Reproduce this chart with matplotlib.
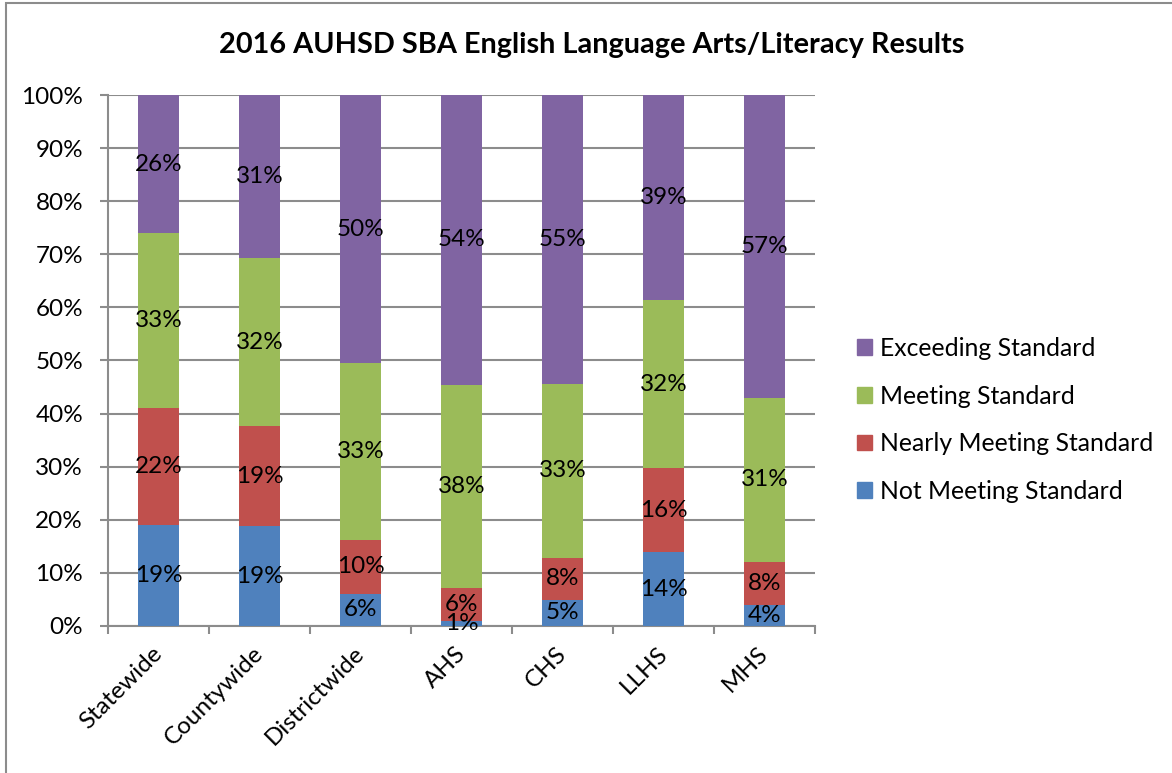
import numpy as np
import matplotlib.pyplot as plt
import matplotlib.transforms as mtransforms
from matplotlib.patches import Patch, Rectangle

plt.rcParams['font.family'] = ['Lato', 'DejaVu Sans']

# ===== data =====
schools = ["Statewide", "Countywide", "Districtwide", "AHS", "CHS", "LLHS", "MHS"]
not_meeting = [19, 19, 6, 1, 5, 14, 4]
nearly = [22, 19, 10, 6, 8, 16, 8]
meeting = [33, 32, 33, 38, 33, 32, 31]
exceeding = [26, 31, 50, 54, 55, 39, 57]

series_names = ["Not Meeting Standard", "Nearly Meeting Standard",
                "Meeting Standard", "Exceeding Standard"]
colors = ["#4F81BD", "#C0504D", "#9BBB59", "#8064A2"]

# 100% stacked: 把每一欄正規化
vals = np.array([not_meeting, nearly, meeting, exceeding], dtype=float)
shares = vals / vals.sum(axis=0) * 100

fig = plt.figure(figsize=(11.72, 7.73), dpi=100)
ax = fig.add_axes([0.0922, 0.1902, 0.6032, 0.6869])

# 外框
fig.patches.append(Rectangle((6 / 1172, -0.01), 1.2, 1 - 3 / 773 + 0.01,
                             transform=fig.transFigure, fill=False,
                             edgecolor="#8C8C8C", linewidth=1.5))

x = np.arange(len(schools))
bottom = np.zeros(len(schools))
for i in range(4):
    ax.bar(x, shares[i], 0.4, bottom=bottom, color=colors[i], zorder=3)
    for j in range(len(schools)):
        ax.text(x[j], bottom[j] + shares[i][j] / 2, f"{int(vals[i][j])}%",
                ha="center", va="center", fontsize=17.5, color="black", zorder=4)
    bottom += shares[i]

ax.set_xlim(-0.5, len(schools) - 0.5)
ax.set_ylim(0, 100)
ax.set_yticks(np.arange(0, 101, 10))
ax.set_yticklabels([f"{v}%" for v in range(0, 101, 10)], fontsize=17.5)
ax.yaxis.grid(True, color="#8C8C8C", linewidth=1.5, zorder=0)
ax.set_axisbelow(True)

ax.set_xticks(x)
ax.set_xticklabels(schools, rotation=45, ha="right", rotation_mode="anchor",
                   fontsize=17.5)
ax.set_xticks(np.arange(-0.5, len(schools)), minor=True)
ax.tick_params(axis="x", which="major", length=0, pad=12)
ax.tick_params(axis="x", which="minor", length=6, width=1.5, color="#8C8C8C")
ax.tick_params(axis="y", length=6, width=1.5, color="#8C8C8C", pad=12)

shift = mtransforms.ScaledTranslation(-7 / 100, 0, fig.dpi_scale_trans)
for lab in ax.get_xticklabels():
    lab.set_transform(lab.get_transform() + shift)

for s in ["top", "right"]:
    ax.spines[s].set_visible(False)
for s in ["left", "bottom"]:
    ax.spines[s].set_color("#8C8C8C")
    ax.spines[s].set_linewidth(1.5)

fig.text(0.5 * (222 + 962) / 1172, 1 - 45 / 773,
         "2016 AUHSD SBA English Language Arts/Literacy Results",
         ha="center", va="center", fontsize=20.8, fontweight="bold")

handles = [Patch(color=colors[i], label=series_names[i]) for i in range(3, -1, -1)]
fig.legend(handles=handles, loc="center left", bbox_to_anchor=(0.712, 0.4567),
           frameon=False, fontsize=17.8, handlelength=0.6, handleheight=0.6,
           handletextpad=0.35, labelspacing=1.0)

fig.savefig("out.png", dpi=100)
